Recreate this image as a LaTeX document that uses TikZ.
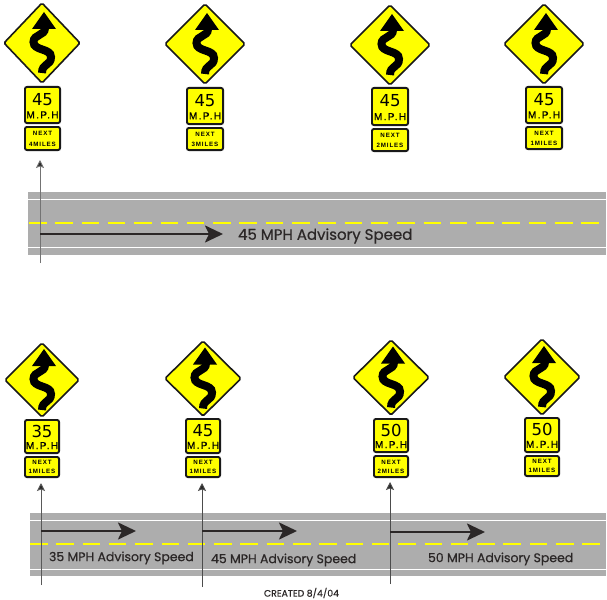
\documentclass[tikz,border=0pt]{standalone}
\usepackage{fontspec}
\usetikzlibrary{shapes.geometric,arrows.meta}
\setmainfont{DejaVu Sans}
\newfontfamily\labelfont[FakeBold=0.6]{Poppins}
\newfontfamily\signfont[LetterSpace=14]{Liberation Sans}
\newfontfamily\mphfont[LetterSpace=14,FakeBold=0.7]{Liberation Sans}
\definecolor{roadgrey}{HTML}{ADADAD}
\definecolor{signyellow}{HTML}{FFFF00}
\definecolor{inktext}{HTML}{2B2727}
\tikzset{
  x=1pt,y=-1pt,
  warnsign/.style={shape=diamond,draw=black!90,fill=signyellow,line width=1.6pt,inner sep=0pt,outer sep=0pt,rounded corners=1.5pt},
  plate/.style={shape=rectangle,draw=black!90,fill=signyellow,line width=1.9pt,inner sep=0pt,outer sep=0pt,rounded corners=2pt},
  signtext/.style={inner sep=0pt,outer sep=0pt,text=black},
  roadbed/.style={fill=roadgrey,draw=none},
  edgeline/.style={draw=white,line width=1pt},
  centerline/.style={draw=signyellow,line width=1.6pt,dash pattern=on 17.5pt off 8.8pt},
  pointer/.style={draw=#1,line width=.9pt,-{Stealth[length=8pt,width=8pt,inset=1.5pt,fill=black!85]}},
  travel/.style={draw=inktext,line width=2.3pt,-{Stealth[length=18pt,width=17pt,inset=4pt]}},
  advisory/.style={inner sep=0pt,outer sep=0pt,text=inktext},
  windy/.pic={
    \draw[black,line width=8pt,line cap=butt] (3,-15) .. controls (3,-7) and (-8.5,-9) .. (-8.5,-1)
       .. controls (-8.5,8) and (9,5) .. (9,14) .. controls (9,23) and (0,20) .. (0,30);
    \fill[black] (2,-31) -- (14,-14) -- (-10,-14) -- cycle;
  }
}
\begin{document}
\begin{tikzpicture}
\useasboundingbox (0,0) rectangle (607,599);
% roads
\path[roadbed] (28,192) rectangle (606,255);
\draw[edgeline] (28,199) -- (606,199);
\draw[edgeline] (28,247) -- (606,247);
\draw[centerline] (29,223) -- (600,223);
\path[roadbed] (30,513) rectangle (606,576);
\draw[edgeline] (30,520) -- (606,520);
\draw[edgeline] (30,569) -- (606,569);
\draw[centerline] (30,544) -- (600,544);
% signs: id / cx / top / bottom / half width / plate left / right / top / bottom / next bottom / speed / distance
\foreach \id/\cx/\dt/\db/\hw/\pl/\pr/\pt/\pb/\nb/\spd/\dist in {
  a/42/3/83/38/24/61/86/124/151/45/4MILES,
  b/205/4/84/40/186/224/87/125/151/45/3MILES,
  c/390/5/85/40/371/409/87/126/152/45/2MILES,
  d/544/4/84/40/525/563/86/124/150/45/1MILES,
  e/42/343/417/37/24/60/419/454/478/35/1MILES,
  f/203/341/416/38/185/221/418/454/478/45/1MILES,
  g/391/340/415/38/373/409/418/453/478/50/2MILES,
  h/542/339/415/38/524/560/417/453/477/50/1MILES}{
  \pgfmathsetmacro{\dy}{(\dt+\db)/2}
  \pgfmathsetmacro{\dw}{2*\hw}
  \pgfmathsetmacro{\dh}{\db-\dt}
  \pgfmathsetmacro{\asp}{\dw/\dh}
  \pgfmathsetmacro{\px}{(\pl+\pr)/2}
  \pgfmathsetmacro{\pw}{\pr-\pl-1.9}
  \pgfmathsetmacro{\ph}{\pb-\pt-1.9}
  \pgfmathsetmacro{\py}{(\pt+\pb)/2}
  \pgfmathsetmacro{\nt}{\pb+2}
  \pgfmathsetmacro{\nh}{\nb-\nt-1.9}
  \pgfmathsetmacro{\ny}{(\nt+\nb)/2}
  \pgfmathsetmacro{\sy}{\pt+0.36*(\pb-\pt)}
  \pgfmathsetmacro{\my}{\pt+0.76*(\pb-\pt)}
  \pgfmathsetmacro{\ay}{\nt+0.30*(\nb-\nt)}
  \pgfmathsetmacro{\by}{\nt+0.72*(\nb-\nt)}
  \node[warnsign,aspect=\asp,minimum width=\dw pt,minimum height=\dh pt] (\id-warn) at (\cx,\dy) {};
  \pic at (\cx,\dy) {windy};
  \node[plate,minimum width=\pw pt,minimum height=\ph pt] (\id-speed) at (\px,\py) {};
  \node[plate,minimum width=\pw pt,minimum height=\nh pt] (\id-next) at (\px,\ny) {};
  \node[signtext,font=\fontsize{16.5}{16.5}\selectfont] (\id-num) at (\px,\sy) {\spd};
  \node[signtext,font=\mphfont\fontsize{10}{10}\selectfont] (\id-mph) at (\px,\my) {M.P.H};
  \node[signtext,font=\signfont\bfseries\fontsize{6.2}{6.2}\selectfont] (\id-nx) at (\px,\ay) {NEXT};
  \node[signtext,font=\signfont\bfseries\fontsize{6.2}{6.2}\selectfont] (\id-mi) at (\px,\by) {\dist};
}
% pointers
\coordinate (p1s) at (40,263);  \coordinate (p1t) at (40,160);
\coordinate (p2s) at (41,585);  \coordinate (p2t) at (41,483);
\coordinate (p3s) at (202,587); \coordinate (p3t) at (202,483);
\coordinate (p4s) at (390,584); \coordinate (p4t) at (390,482);
\draw[pointer=black!55] (p1s) -- (p1t);
\draw[pointer=black!65] (p2s) -- (p2t);
\draw[pointer=black!70] (p3s) -- (p3t);
\draw[pointer=black!70] (p4s) -- (p4t);
% travel arrows
\coordinate (t1s) at (40,234);  \coordinate (t1e) at (223,234);
\coordinate (t2s) at (41,531);  \coordinate (t2e) at (136,531);
\coordinate (t3s) at (202,531); \coordinate (t3e) at (297,531);
\coordinate (t4s) at (390,532); \coordinate (t4e) at (485,532);
\draw[travel] (t1s) -- (t1e);
\draw[travel] (t2s) -- (t2e);
\draw[travel] (t3s) -- (t3e);
\draw[travel] (t4s) -- (t4e);
% labels
\node[advisory,anchor=west,font=\labelfont\fontsize{15}{15}\selectfont] (l1) at (238,236) {45 MPH Advisory Speed};
\node[advisory,anchor=west,font=\labelfont\fontsize{12.5}{12.5}\selectfont] (l2) at (49,558) {35 MPH Advisory Speed};
\node[advisory,anchor=west,font=\labelfont\fontsize{12.5}{12.5}\selectfont] (l3) at (211,560) {45 MPH Advisory Speed};
\node[advisory,anchor=west,font=\labelfont\fontsize{12.5}{12.5}\selectfont] (l4) at (428,559) {50 MPH Advisory Speed};
\node[advisory,anchor=west,font=\labelfont\fontsize{9.3}{9.3}\selectfont] (l5) at (264,593) {CREATED 8/4/04};
\end{tikzpicture}
\end{document}
